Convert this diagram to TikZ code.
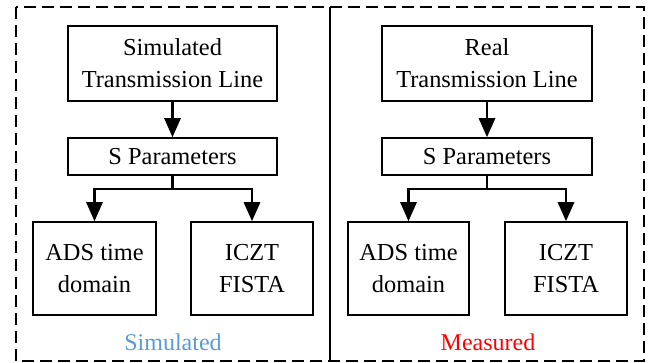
\documentclass[tikz,border=0pt]{standalone}
\usepackage{fontspec}
\setmainfont{Liberation Serif}
\usetikzlibrary{arrows.meta}
\definecolor{simblue}{RGB}{91,155,213}
\tikzset{
  blk/.style={draw, line width=1.5pt, inner sep=0pt, align=center,
    font=\fontsize{24.4}{32}\selectfont},
  flow/.style={line width=2.8pt, -{Triangle[length=19pt,width=16pt]}},
  captxt/.style={font=\fontsize{24}{28}\selectfont, inner sep=0pt},
  frame/.style={line width=1.6pt, dash pattern=on 12pt off 6pt},
}
\begin{document}
\begin{tikzpicture}[x=1pt,y=-1pt]
\useasboundingbox (0,0) rectangle (653,363);
% frame
\draw[frame] (16,7) rectangle (644,361);
\draw[line width=1.5pt] (330,7) -- (330,361);
% left panel
\node[blk, minimum width=209pt, minimum height=75pt] (ltop) at (172.5,63.5) {Simulated\\Transmission Line};
\node[blk, minimum width=209pt, minimum height=37pt] (lsp) at (172.5,156.5) {S Parameters};
\node[blk, minimum width=123pt, minimum height=93pt] (lads) at (94.5,268.5) {ADS time\\domain};
\node[blk, minimum width=122pt, minimum height=93pt] (lic) at (252,268.5) {ICZT\\FISTA};
\coordinate (lbr) at (172.5,189);
\draw[flow] (ltop) -- (lsp);
\draw[line width=2.8pt] (lsp.south) -- (lbr);
\draw[flow] (lbr) -| (lads.north);
\draw[flow] (lbr) -| (lic.north);
\node[captxt, text=simblue] (lcap) at (173,342) {Simulated};
% right panel
\node[blk, minimum width=210pt, minimum height=75pt] (rtop) at (487,63.5) {Real\\Transmission Line};
\node[blk, minimum width=210pt, minimum height=37pt] (rsp) at (487,156.5) {S Parameters};
\node[blk, minimum width=121pt, minimum height=93pt] (rads) at (408.5,268.5) {ADS time\\domain};
\node[blk, minimum width=122pt, minimum height=93pt] (ric) at (566,268.5) {ICZT\\FISTA};
\coordinate (rbr) at (487,189);
\draw[flow] (rtop) -- (rsp);
\draw[line width=2.8pt] (rsp.south) -- (rbr);
\draw[flow] (rbr) -| (rads.north);
\draw[flow] (rbr) -| (ric.north);
\node[captxt, text=red] (rcap) at (488,342) {Measured};
\end{tikzpicture}
\end{document}
